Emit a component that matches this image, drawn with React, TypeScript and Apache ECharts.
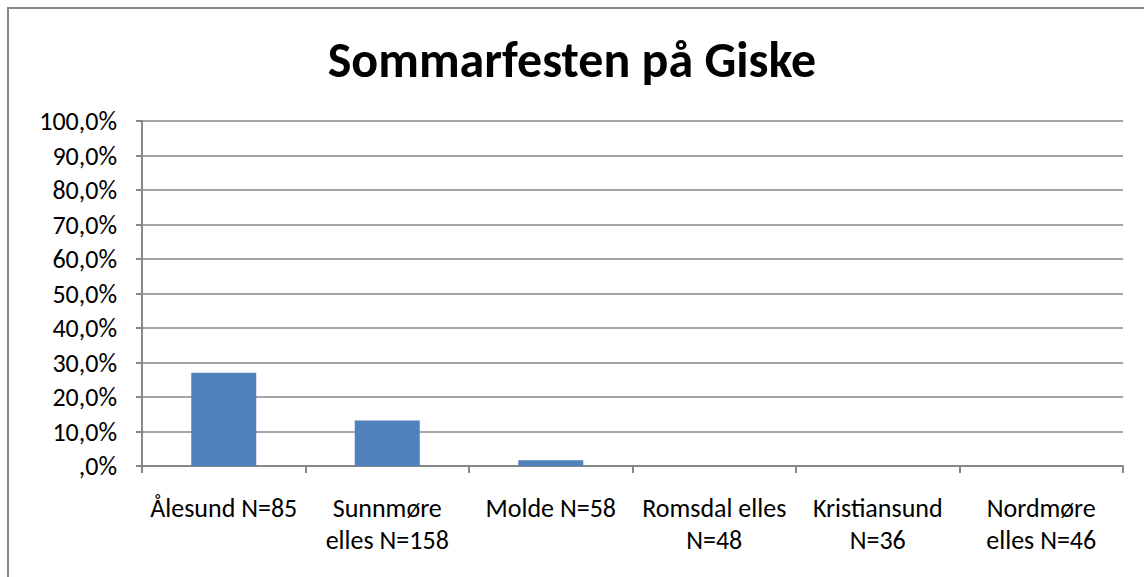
import React, { useEffect, useRef } from "react";
import * as echarts from "echarts";

const categories = [
  "Ålesund N=85",
  "Sunnmøre\nelles N=158",
  "Molde N=58",
  "Romsdal elles\nN=48",
  "Kristiansund\nN=36",
  "Nordmøre\nelles N=46",
];
const values = [27.0, 13.2, 1.7, 0, 0, 0];
const yMin = 0;
const yMax = 100;
const yInterval = 10;

const FONT = "Carlito, Lato, 'Open Sans', sans-serif";
const GRAY = "#878787";

function fmtPct(v: number): string {
  const s = v.toFixed(1).replace(".", ",");
  return (s.startsWith("0,") ? s.slice(1) : s) + "%";
}

export default function App() {
  const ref = useRef<HTMLDivElement>(null);
  useEffect(() => {
    if (!ref.current) return;
    const chart = echarts.init(ref.current, undefined, { renderer: "svg" });
    chart.setOption({
      animation: false,
      backgroundColor: "#ffffff",
      title: {
        text: "Sommarfesten på Giske",
        left: "center",
        top: 29,
        textStyle: { fontFamily: FONT, fontWeight: "bold", fontSize: 50, color: "#000" },
      },
      graphic: [
        {
          type: "rect",
          shape: { x: 8, y: 8, width: 1300, height: 1000 },
          style: { fill: "none", stroke: GRAY, lineWidth: 2 },
          silent: true,
        },
      ],
      grid: { left: 142, right: 21, top: 121, bottom: 111, containLabel: false },
      xAxis: {
        type: "category",
        data: categories,
        boundaryGap: true,
        axisLine: { lineStyle: { color: GRAY, width: 2 } },
        axisTick: { show: true, alignWithLabel: false, length: 7, lineStyle: { color: GRAY, width: 2 } },
        axisLabel: {
          interval: 0,
          margin: 26,
          fontFamily: FONT,
          fontSize: 26,
          lineHeight: 32,
          color: "#000",
          align: "center",
        },
      },
      yAxis: {
        type: "value",
        min: yMin,
        max: yMax,
        interval: yInterval,
        axisLine: { show: true, lineStyle: { color: GRAY, width: 2 } },
        axisTick: { show: true, length: 6, lineStyle: { color: GRAY, width: 2 } },
        splitLine: { show: true, lineStyle: { color: GRAY, width: 1.5 } },
        axisLabel: {
          margin: 25,
          fontFamily: FONT,
          fontSize: 26,
          color: "#000",
          formatter: (v: number) => fmtPct(v),
        },
      },
      series: [
        {
          type: "bar",
          data: values,
          barWidth: 65,
          itemStyle: { color: "#4f81bd" },
        },
      ],
    });
    return () => chart.dispose();
  }, []);
  return (
    <div
      ref={ref}
      style={{ position: "absolute", left: 0, top: 0, width: 1144, height: 577 }}
    />
  );
}
